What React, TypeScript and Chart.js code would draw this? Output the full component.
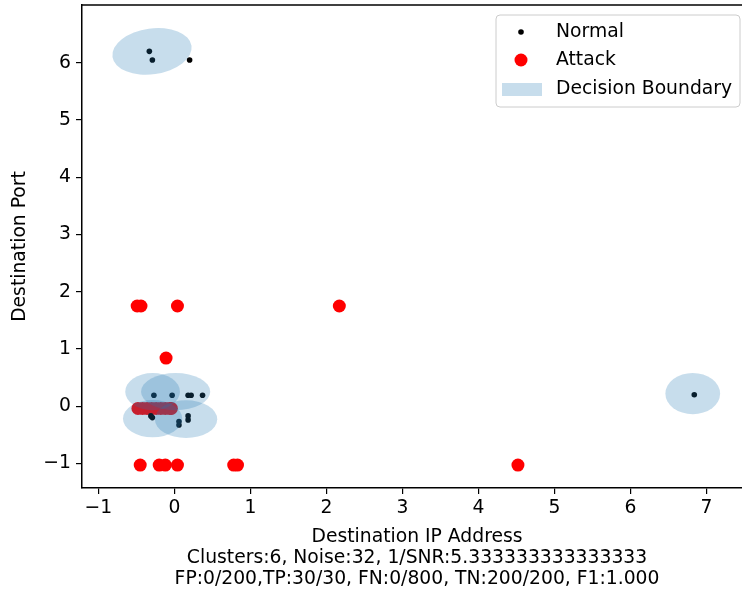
import React, { useEffect, useRef } from 'react';
import { Chart, registerables } from 'chart.js';

Chart.register(...registerables);

const FONT = "'DejaVu Sans', sans-serif";
const FS = 18.75;

// Normal points
const normalX = [-0.33, -0.29, 0.2, -0.27, -0.03, 0.18, 0.22, 0.37, -0.31, -0.29, 0.06, 0.06, 0.18, 0.18, 6.84];
const normalY = [6.2, 6.05, 6.05, 0.19, 0.19, 0.19, 0.19, 0.19, -0.17, -0.2, -0.27, -0.33, -0.17, -0.24, 0.2];

// Attack points
const attackX = [-0.49, -0.44, 0.04, 2.17, -0.11, -0.48, -0.42, -0.36, -0.3, -0.24, -0.18, -0.12, -0.06, -0.04, -0.45, -0.2, -0.12, 0.04, 0.78, 0.83, 4.52];
const attackY = [1.75, 1.75, 1.75, 1.75, 0.84, -0.04, -0.04, -0.04, -0.04, -0.04, -0.04, -0.04, -0.04, -0.04, -1.03, -1.03, -1.03, -1.03, -1.03, -1.03, -1.03];

// Decision boundary ellipses (data units)
const ellipseCx = [-0.295, 6.82, -0.287, 0.016, -0.287, 0.153];
const ellipseCy = [6.2, 0.22, 0.253, 0.253, -0.219, -0.227];
const ellipseW = [1.05, 0.72, 0.72, 0.91, 0.78, 0.82];
const ellipseH = [0.8, 0.72, 0.65, 0.65, 0.65, 0.66];
const ellipseAngle = [8, 0, 0, 0, 0, 0];

const xTicks = [-1, 0, 1, 2, 3, 4, 5, 6, 7];
const yTicks = [-1, 0, 1, 2, 3, 4, 5, 6];
const xRange = [-1.216, 7.468]; // visible part of the axis (the original axis runs on to 7.6, cut off by the frame)
const xAxisFullMax = 7.6;
const yRange = [-1.43, 7.01];

const xLabelLines = [
  'Destination IP Address',
  'Clusters:6, Noise:32, 1/SNR:5.333333333333333',
  'FP:0/200,TP:30/30, FN:0/800, TN:200/200, F1:1.000',
];
const yLabel = 'Destination Port';
const legendLabels = ['Normal', 'Attack', 'Decision Boundary'];

const ELLIPSE_FILL = 'rgba(31,119,180,0.25)';

const fmt = (v: number) => (v < 0 ? '\u2212' + Math.abs(v) : String(v));

const ellipsePlugin = {
  id: 'ellipses',
  afterDatasetsDraw(chart: any) {
    const { ctx, chartArea } = chart;
    const xs = chart.scales.x;
    const ys = chart.scales.y;
    ctx.save();
    ctx.beginPath();
    ctx.rect(chartArea.left, chartArea.top, chartArea.right - chartArea.left, chartArea.bottom - chartArea.top);
    ctx.clip();
    ctx.fillStyle = ELLIPSE_FILL;
    for (let i = 0; i < ellipseCx.length; i++) {
      const cx = xs.getPixelForValue(ellipseCx[i]);
      const cy = ys.getPixelForValue(ellipseCy[i]);
      const rx = Math.abs(xs.getPixelForValue(ellipseCx[i] + ellipseW[i] / 2) - cx);
      const ry = Math.abs(ys.getPixelForValue(ellipseCy[i] + ellipseH[i] / 2) - cy);
      ctx.beginPath();
      ctx.ellipse(cx, cy, rx, ry, (-ellipseAngle[i] * Math.PI) / 180, 0, Math.PI * 2);
      ctx.fill();
    }
    ctx.restore();
  },
};

const framePlugin = {
  id: 'frame',
  afterDraw(chart: any) {
    const { ctx, chartArea } = chart;
    const xs = chart.scales.x;
    ctx.save();
    ctx.strokeStyle = '#000';
    ctx.lineWidth = 1.5;
    ctx.beginPath();
    ctx.moveTo(chartArea.left, chartArea.top);
    ctx.lineTo(chartArea.right + 2, chartArea.top);
    ctx.stroke();

    // x-axis title lines, centred on the full axis
    const cx = (xs.getPixelForValue(xRange[0]) + xs.getPixelForValue(xAxisFullMax)) / 2;
    ctx.fillStyle = '#000';
    ctx.font = `${FS}px ${FONT}`;
    ctx.textAlign = 'center';
    ctx.textBaseline = 'middle';
    const lastY = chart.height - 17;
    for (let i = 0; i < xLabelLines.length; i++) {
      ctx.fillText(xLabelLines[i], cx, lastY - 21 * (xLabelLines.length - 1 - i));
    }

    // legend
    const lx = 496, ly = 15, lw = 244, lh = 92, r = 4;
    ctx.beginPath();
    ctx.moveTo(lx + r, ly);
    ctx.lineTo(lx + lw - r, ly);
    ctx.quadraticCurveTo(lx + lw, ly, lx + lw, ly + r);
    ctx.lineTo(lx + lw, ly + lh - r);
    ctx.quadraticCurveTo(lx + lw, ly + lh, lx + lw - r, ly + lh);
    ctx.lineTo(lx + r, ly + lh);
    ctx.quadraticCurveTo(lx, ly + lh, lx, ly + lh - r);
    ctx.lineTo(lx, ly + r);
    ctx.quadraticCurveTo(lx, ly, lx + r, ly);
    ctx.closePath();
    ctx.fillStyle = 'rgba(255,255,255,0.8)';
    ctx.fill();
    ctx.strokeStyle = '#cccccc';
    ctx.lineWidth = 1;
    ctx.stroke();

    const rowsY = [32, 60, 89];
    ctx.fillStyle = '#000';
    ctx.beginPath();
    ctx.arc(521, rowsY[0], 2.8, 0, Math.PI * 2);
    ctx.fill();
    ctx.fillStyle = '#ff0000';
    ctx.beginPath();
    ctx.arc(521, rowsY[1], 6.5, 0, Math.PI * 2);
    ctx.fill();
    ctx.fillStyle = ELLIPSE_FILL;
    ctx.fillRect(502, 83, 40, 13);

    ctx.fillStyle = '#000';
    ctx.textAlign = 'left';
    for (let i = 0; i < legendLabels.length; i++) {
      ctx.fillText(legendLabels[i], 556, rowsY[i]);
    }
    ctx.restore();
  },
};

export default function App() {
  const ref = useRef<HTMLCanvasElement | null>(null);
  useEffect(() => {
    if (!ref.current) return;
    const chart = new Chart(ref.current, {
      type: 'scatter',
      data: {
        datasets: [
          {
            label: legendLabels[0],
            data: normalX.map((x, i) => ({ x, y: normalY[i] })),
            backgroundColor: '#000',
            borderWidth: 0,
            pointRadius: 2.8,
          },
          {
            label: legendLabels[1],
            data: attackX.map((x, i) => ({ x, y: attackY[i] })),
            backgroundColor: '#ff0000',
            borderWidth: 0,
            pointRadius: 6.5,
          },
        ],
      },
      options: {
        responsive: false,
        animation: false,
        layout: { autoPadding: false, padding: { left: 0, right: 0, top: 5, bottom: 0 } },
        plugins: { legend: { display: false }, tooltip: { enabled: false }, title: { display: false } },
        scales: {
          x: {
            type: 'linear',
            min: xRange[0],
            max: xRange[1],
            afterBuildTicks: (s: any) => {
              s.ticks = xTicks.map((v) => ({ value: v }));
            },
            afterFit: (s: any) => {
              s.height = 108;
              s.paddingLeft = 0;
              s.paddingRight = 0;
              s.paddingTop = 0;
              s.paddingBottom = 0;
            },
            grid: { display: true, drawOnChartArea: false, drawTicks: true, tickLength: 6, color: '#000', lineWidth: 1.2 },
            border: { display: true, color: '#000', width: 1.5 },
            ticks: {
              color: '#000',
              font: { family: FONT, size: FS },
              padding: 3,
              maxRotation: 0,
              autoSkip: false,
              callback: (v: any) => fmt(Number(v)),
            },
            title: { display: false },
          },
          y: {
            type: 'linear',
            min: yRange[0],
            max: yRange[1],
            afterBuildTicks: (s: any) => {
              s.ticks = yTicks.map((v) => ({ value: v }));
            },
            afterFit: (s: any) => {
              s.width = 82;
              s.paddingLeft = 0;
              s.paddingRight = 0;
              s.paddingTop = 0;
              s.paddingBottom = 0;
            },
            grid: { display: true, drawOnChartArea: false, drawTicks: true, tickLength: 6, color: '#000', lineWidth: 1.2 },
            border: { display: true, color: '#000', width: 1.5 },
            ticks: {
              color: '#000',
              font: { family: FONT, size: FS },
              padding: 5,
              autoSkip: false,
              callback: (v: any) => fmt(Number(v)),
            },
            title: {
              display: true,
              text: yLabel,
              color: '#000',
              font: { family: FONT, size: FS, lineHeight: 21 / FS },
              padding: { top: 9.5, bottom: 0 },
            },
          },
        },
      },
      plugins: [ellipsePlugin, framePlugin],
    } as any);
    return () => chart.destroy();
  }, []);

  return (
    <div style={{ position: 'fixed', left: 0, top: 0, width: 742, height: 596, overflow: 'hidden', background: '#fff' }}>
      <canvas ref={ref} width={742} height={596} style={{ width: 742, height: 596, display: 'block' }} />
    </div>
  );
}
